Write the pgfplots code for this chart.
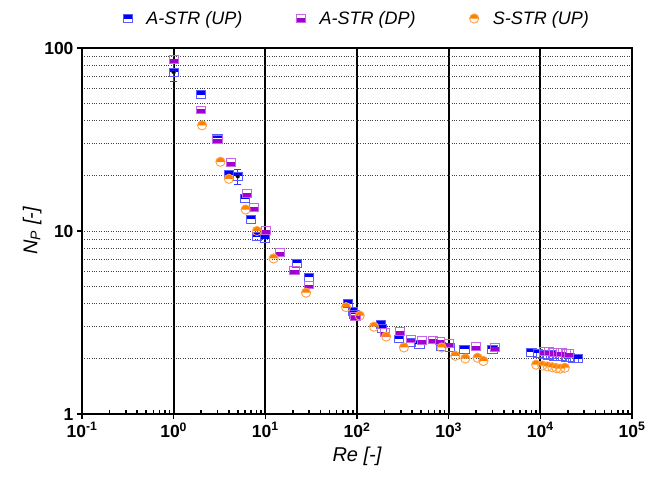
\documentclass[border=0pt]{standalone}
\usepackage{pgfplots}
\pgfplotsset{compat=1.18}
\usepackage{fontspec}
\setmainfont{Liberation Sans}
\definecolor{cblue}{RGB}{0,0,255}
\definecolor{cpurp}{RGB}{160,0,210}
\definecolor{corg}{RGB}{255,128,0}
\pgfdeclareplotmark{sqtop}{%
  \pgfpathrectangle{\pgfpoint{-\pgfplotmarksize}{0pt}}{\pgfpoint{2\pgfplotmarksize}{0.85\pgfplotmarksize}}%
  \pgfusepathqfill
  \pgfpathrectangle{\pgfpoint{-\pgfplotmarksize}{-0.85\pgfplotmarksize}}{\pgfpoint{2\pgfplotmarksize}{1.7\pgfplotmarksize}}%
  \pgfusepathqstroke}
\pgfdeclareplotmark{sqbot}{%
  \pgfpathrectangle{\pgfpoint{-\pgfplotmarksize}{-0.85\pgfplotmarksize}}{\pgfpoint{2\pgfplotmarksize}{0.95\pgfplotmarksize}}%
  \pgfusepathqfill
  \pgfpathrectangle{\pgfpoint{-\pgfplotmarksize}{-0.85\pgfplotmarksize}}{\pgfpoint{2\pgfplotmarksize}{1.7\pgfplotmarksize}}%
  \pgfusepathqstroke}
\pgfdeclareplotmark{circtop}{%
  \pgfpathmoveto{\pgfpoint{-\pgfplotmarksize}{0pt}}%
  \pgfpatharc{180}{0}{\pgfplotmarksize}%
  \pgfpathclose
  \pgfusepathqfill
  \pgfpathcircle{\pgfpointorigin}{\pgfplotmarksize}%
  \pgfusepathqstroke}
\begin{document}
\begin{tikzpicture}
\begin{axis}[
  name=ax,
  scale only axis,
  width=550pt, height=366pt,
  xmode=log, ymode=log,
  xmin=0.1, xmax=1e5, ymin=1, ymax=100,
  axis line style={line width=2.4pt},
  xtick={0.1,1,10,100,1000,10000,100000},
  xticklabels={\textbf{10\textsuperscript{-1}},\textbf{10\textsuperscript{0}},\textbf{10\textsuperscript{1}},\textbf{10\textsuperscript{2}},\textbf{10\textsuperscript{3}},\textbf{10\textsuperscript{4}},\textbf{10\textsuperscript{5}}},
  ytick={1,10,100},
  yticklabels={\textbf{1},\textbf{10},\textbf{100}},
  xtick pos=bottom, ytick pos=left,
  tick align=outside,
  major tick length=5pt,
  minor tick length=0pt,
  xminorticks=false,
  extra x ticks={0.2,0.3,0.4,0.5,0.6,0.7,0.8,0.9,2,3,4,5,6,7,8,9,20,30,40,50,60,70,80,90,200,300,400,500,600,700,800,900,2000,3000,4000,5000,6000,7000,8000,9000,20000,30000,40000,50000,60000,70000,80000,90000},
  extra x tick labels={},
  extra x tick style={tick align=inside, major tick length=4pt, xmajorgrids=false, major tick style={line width=1.6pt, black}},
  xmajorgrids=true,
  x grid style={line width=1.8pt, black, solid},
  yminorgrids=true,
  y grid style={dotted, line width=0.9pt, black!75},
  tick style={line width=1.6pt, black},
  ticklabel style={font=\fontsize{17.5}{17.5}\selectfont},
  xlabel={\itshape Re [-]},
  ylabel={\itshape N\textsubscript{P} [-]},
  label style={font=\fontsize{20}{20}\selectfont},
  xlabel style={yshift=2pt},
  ylabel style={yshift=-4pt},
  legend columns=3,
  legend style={at={(0.5,1)}, anchor=south, yshift=18pt, draw=none, fill=none,
    font=\itshape\fontsize{18}{18}\selectfont,
    /tikz/every odd column/.append style={column sep=12pt},
    /tikz/every even column/.append style={column sep=52pt}},
  legend cell align=left,
]
\addplot[only marks, mark=sqtop, mark size=4.6pt, draw=cblue!65, fill=cblue, line width=0.9pt] coordinates {
(1,73.8) (2.0,55.5) (3.0,32.2) (4.0,20.3) (5.0,19.9) (6.0,15.0) (7.0,11.6)
(8.1,9.3) (10.0,9.1) (22,6.65) (30,5.6) (79,4.01) (91,3.62) (94,3.5)
(181,3.09) (188,2.94) (286,2.57) (386,2.47) (481,2.40) (820,2.33) (1040,2.31)
(1490,2.26) (3000,2.26)
(8000,2.17) (9500,2.15) (11000,2.12) (12000,2.09) (13000,2.11) (14000,2.07)
(15500,2.06) (17000,2.05) (19000,2.04) (21000,2.03) (23000,2.02) (25500,2.01)
};
\addlegendentry{A-STR (UP)}
\addplot[only marks, mark=sqbot, mark size=4.6pt, draw=cpurp!60, fill=cpurp, line width=0.9pt] coordinates {
(1,87) (2.0,45.9) (3.0,31.5) (4.2,23.7) (6.3,16.0) (7.5,13.4) (10.2,10.1)
(14.5,7.66) (20.8,6.1) (30,5.07) (96,3.4) (201,2.80) (296,2.82) (386,2.57)
(506,2.52) (680,2.54) (810,2.51) (1000,2.43) (1990,2.33) (3200,2.31)
(11000,2.20) (12500,2.19) (14000,2.18) (15500,2.17) (17000,2.17) (19000,2.15) (20500,2.14)
};
\addlegendentry{A-STR (DP)}
\addplot[only marks, mark=circtop, mark size=4.6pt, draw=corg!75, fill=corg, line width=0.9pt] coordinates {
(2.04,37.8) (3.24,23.9) (4.0,19.3) (6.1,13.1) (8.1,10.0) (12.3,7.08) (27.8,4.60)
(76,3.84) (107,3.45) (153,3.0) (208,2.65) (325,2.31) (840,2.31) (1180,2.08)
(1520,2.01) (2065,2.03) (2390,1.95)
(9000,1.86) (10500,1.84) (12000,1.82) (13500,1.80) (15000,1.78) (16500,1.77) (18500,1.79)
};
\addlegendentry{S-STR (UP)}
\addplot[forget plot, only marks, mark=none, draw=cblue!80, error bars/.cd, y dir=both, y explicit, error mark=-, error bar style={line width=0.9pt, cblue!80}, error mark options={mark size=3.5pt, line width=0.9pt, rotate=90, cblue!80}] coordinates {
(1,73.8) +- (0,8.5)
(5.0,19.9) +- (0,1.9)
};
\end{axis}
\pgfresetboundingbox
\path[use as bounding box] (-82pt,-63pt) rectangle (586pt,414pt);
\end{tikzpicture}
\end{document}
